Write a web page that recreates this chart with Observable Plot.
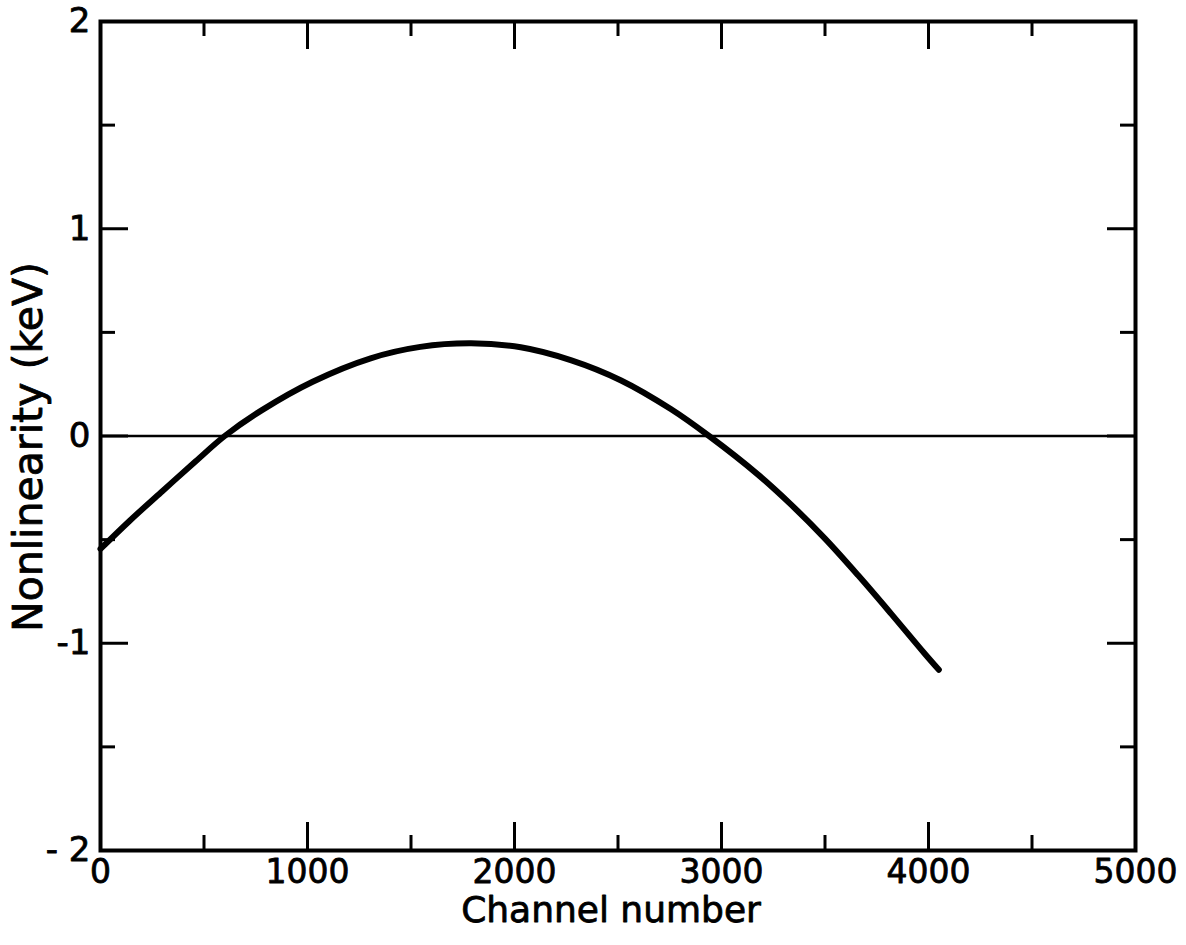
<!DOCTYPE html>
<html>
<head>
<meta charset="utf-8">
<script src="https://cdn.jsdelivr.net/npm/d3@7"></script>
<script src="https://cdn.jsdelivr.net/npm/@observablehq/plot@0.6"></script>
<style>
  html, body { margin: 0; padding: 0; background: #fff; }
  #chart { width: 1186px; height: 945px; }
</style>
</head>
<body>
<div id="chart"></div>
<script>
// Data
const channel = [0, 140, 300, 460, 600, 780, 1025, 1305, 1545, 1790, 2030, 2275, 2515, 2755, 2940, 3175, 3335, 3500, 3660, 3820, 3980, 4050];
const nonlinearity = [-0.545, -0.41, -0.265, -0.122, 0.0, 0.125, 0.262, 0.375, 0.43, 0.447, 0.428, 0.365, 0.268, 0.13, 0.0, -0.185, -0.33, -0.495, -0.672, -0.858, -1.048, -1.128];

const xMajorTicks = [0, 1000, 2000, 3000, 4000, 5000];
const xMinorTicks = [500, 1500, 2500, 3500, 4500];
const yMajorTicks = [-2, -1, 0, 1, 2];
const yMinorTicks = [-1.5, -0.5, 0.5, 1.5];
const xTickLabels = ["0", "1000", "2000", "3000", "4000", "5000"];
const yTickLabels = ["- 2", "-1", "0", "1", "2"];

const xLabel = "Channel number";
const yLabel = "Nonlinearity (keV)";

const data = channel.map((c, i) => ({channel: c, value: nonlinearity[i]}));
const xTicks = xMajorTicks.map((v, i) => ({v, label: xTickLabels[i]}));
const yTicks = yMajorTicks.map((v, i) => ({v, label: yTickLabels[i]}));

const W = 1186, H = 945;
const mL = 100, mR = 51, mT = 21, mB = 95;
const plotW = W - mL - mR, plotH = H - mT - mB;
const majorLen = 28, minorLen = 15;
const font = "DejaVu Sans";
const ink = "#000";

const chart = Plot.plot({
  width: W,
  height: H,
  marginLeft: mL,
  marginRight: mR,
  marginTop: mT,
  marginBottom: mB,
  style: {fontFamily: font, background: "#fff", color: ink},
  x: {domain: [0, 5000], axis: null},
  y: {domain: [-2, 2], axis: null},
  marks: [
    // zero line
    Plot.ruleY([0], {stroke: ink, strokeWidth: 2.5}),
    // curve
    Plot.line(data, {x: "channel", y: "value", curve: "catmull-rom", stroke: ink, strokeWidth: 6, strokeLinecap: "round"}),
    // inward ticks: bottom
    Plot.tickX(xMajorTicks, {x: d => d, insetTop: plotH - majorLen, stroke: ink, strokeWidth: 3}),
    Plot.tickX(xMinorTicks, {x: d => d, insetTop: plotH - minorLen, stroke: ink, strokeWidth: 3}),
    // top
    Plot.tickX(xMajorTicks, {x: d => d, insetBottom: plotH - majorLen, stroke: ink, strokeWidth: 3}),
    Plot.tickX(xMinorTicks, {x: d => d, insetBottom: plotH - minorLen, stroke: ink, strokeWidth: 3}),
    // left
    Plot.tickY(yMajorTicks, {y: d => d, insetRight: plotW - majorLen, stroke: ink, strokeWidth: 3}),
    Plot.tickY(yMinorTicks, {y: d => d, insetRight: plotW - minorLen, stroke: ink, strokeWidth: 3}),
    // right
    Plot.tickY(yMajorTicks, {y: d => d, insetLeft: plotW - majorLen, stroke: ink, strokeWidth: 3}),
    Plot.tickY(yMinorTicks, {y: d => d, insetLeft: plotW - minorLen, stroke: ink, strokeWidth: 3}),
    // frame
    Plot.frame({stroke: ink, strokeWidth: 4}),
    // tick labels
    Plot.text(xTicks, {x: "v", text: "label", frameAnchor: "bottom", lineAnchor: "top", dy: 9, fontSize: 33, fill: ink, stroke: ink, strokeWidth: 0.8}),
    Plot.text(yTicks, {y: "v", text: "label", frameAnchor: "left", textAnchor: "end", dx: -10, fontSize: 34, fill: ink, stroke: ink, strokeWidth: 0.8}),
    // axis titles
    Plot.text([xLabel], {text: d => d, frameAnchor: "bottom", textAnchor: "middle", dx: -7, dy: 46, lineAnchor: "top", fontSize: 36, fill: ink, stroke: ink, strokeWidth: 0.8}),
    Plot.text([yLabel], {text: d => d, frameAnchor: "left", textAnchor: "middle", rotate: -90, dx: -72, dy: 11, fontSize: 41, fill: ink, stroke: ink, strokeWidth: 0.8})
  ]
});

document.getElementById("chart").appendChild(chart);
</script>
</body>
</html>
